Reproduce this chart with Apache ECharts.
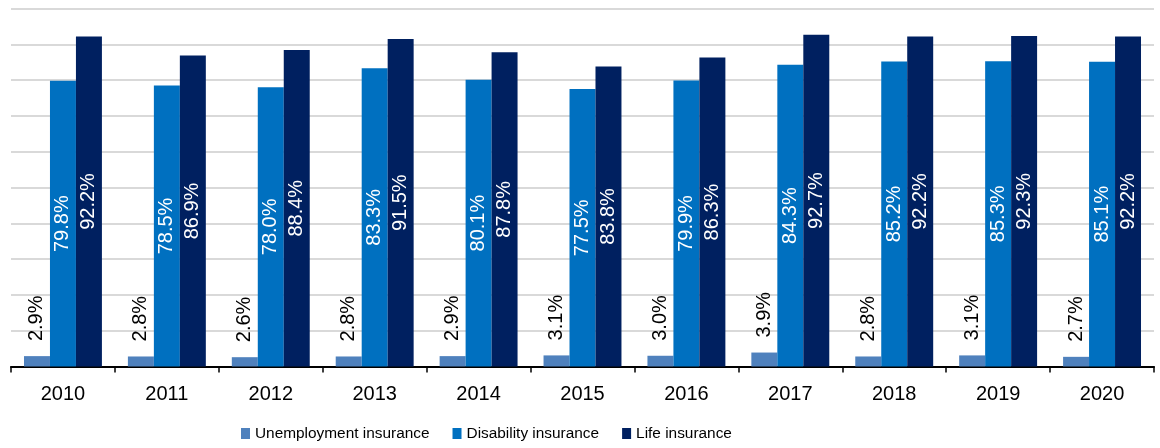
<!DOCTYPE html>
<html>
<head>
<meta charset="utf-8">
<script src="https://cdn.jsdelivr.net/npm/echarts@6/dist/echarts.min.js"></script>
<style>
  html, body { margin: 0; padding: 0; background: #fff; }
  #chart { width: 1160px; height: 448px; }
</style>
</head>
<body>
<div id="chart"></div>
<script>
const years = ['2010', '2011', '2012', '2013', '2014', '2015', '2016', '2017', '2018', '2019', '2020'];
const unemployment = [2.9, 2.8, 2.6, 2.8, 2.9, 3.1, 3.0, 3.9, 2.8, 3.1, 2.7];
const disability = [79.8, 78.5, 78.0, 83.3, 80.1, 77.5, 79.9, 84.3, 85.2, 85.3, 85.1];
const life = [92.2, 86.9, 88.4, 91.5, 87.8, 83.8, 86.3, 92.7, 92.2, 92.3, 92.2];

const FONT = '"Liberation Sans", Arial, Helvetica, sans-serif';
const pct = p => p.value.toFixed(1) + '%';

const chart = echarts.init(document.getElementById('chart'), null, { renderer: 'canvas' });

chart.setOption({
  animation: false,
  textStyle: { fontFamily: FONT },
  grid: { left: 11, right: 6, top: 8.5, bottom: 81.5, containLabel: false },
  legend: {
    left: 236,
    top: 421,
    itemWidth: 9,
    itemHeight: 11,
    itemGap: 23,
    icon: 'rect',
    textStyle: { fontFamily: FONT, fontSize: 15.4, color: '#000' },
    data: ['Unemployment insurance', 'Disability insurance', 'Life insurance']
  },
  xAxis: {
    type: 'category',
    data: years,
    axisLine: { lineStyle: { color: '#000', width: 2 } },
    axisTick: { show: true, length: 6, lineStyle: { color: '#000', width: 1.5 } },
    axisLabel: { color: '#000', fontSize: 20, fontFamily: FONT, margin: 18 }
  },
  yAxis: {
    type: 'value',
    min: 0,
    max: 100,
    interval: 10,
    axisLabel: { show: false },
    axisLine: { show: false },
    axisTick: { show: false },
    splitLine: { lineStyle: { color: '#d9d9d9', width: 2 } }
  },
  series: [
    {
      name: 'Unemployment insurance',
      type: 'bar',
      data: unemployment,
      barGap: '0%',
      barCategoryGap: '25%',
      itemStyle: { color: '#4f81bd' },
      label: {
        show: true,
        position: 'top',
        rotate: 90,
        align: 'left',
        verticalAlign: 'middle',
        distance: 15,
        color: '#000',
        fontSize: 20,
        fontFamily: FONT,
        formatter: pct
      }
    },
    {
      name: 'Disability insurance',
      type: 'bar',
      data: disability,
      barGap: '0%',
      barCategoryGap: '25%',
      itemStyle: { color: '#0070c0' },
      label: {
        show: true,
        position: 'inside',
        rotate: 90,
        color: '#fff',
        fontSize: 20,
        fontFamily: FONT,
        formatter: pct
      }
    },
    {
      name: 'Life insurance',
      type: 'bar',
      data: life,
      barGap: '0%',
      barCategoryGap: '25%',
      itemStyle: { color: '#002060' },
      label: {
        show: true,
        position: 'inside',
        rotate: 90,
        color: '#fff',
        fontSize: 20,
        fontFamily: FONT,
        formatter: pct
      }
    }
  ]
});
</script>
</body>
</html>
